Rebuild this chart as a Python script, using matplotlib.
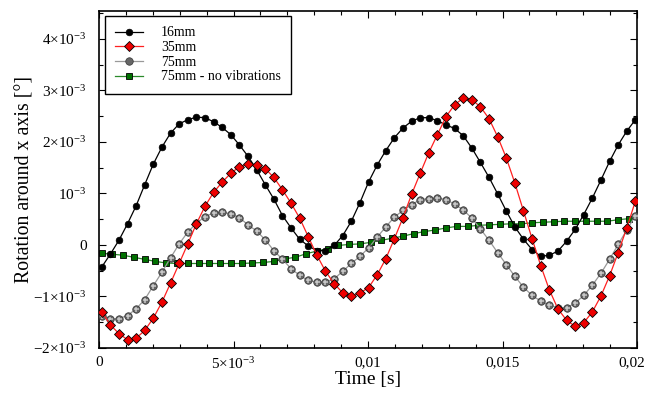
import numpy as np
import matplotlib
matplotlib.use("Agg")
import matplotlib.pyplot as plt
import matplotlib.transforms as mtransforms
from matplotlib.ticker import FixedLocator, MultipleLocator

plt.rcParams['font.family'] = ['Liberation Serif', 'DejaVu Serif']
plt.rcParams['mathtext.fontset'] = 'custom'
plt.rcParams['mathtext.rm'] = 'Liberation Serif'
plt.rcParams['mathtext.it'] = 'Liberation Serif:italic'

# time samples (s)
t_start = 0.0001
t_step = 0.00032
n_pts = 63
g_step = 0.0004
n_g = 50

# values in units of 1e-3 degrees
s16 = [-0.43, -0.18, 0.09, 0.41, 0.76, 1.17, 1.57, 1.90, 2.17, 2.35, 2.43,
       2.48, 2.47, 2.39, 2.28, 2.14, 1.94, 1.72, 1.46, 1.17, 0.89, 0.57,
       0.33, 0.11, -0.02, -0.11, -0.11, -0.01, 0.18, 0.46, 0.82, 1.22,
       1.55, 1.83, 2.08, 2.27, 2.40, 2.47, 2.47, 2.41, 2.33, 2.26, 2.12,
       1.88, 1.60, 1.31, 0.99, 0.66, 0.35, 0.11, -0.09, -0.22, -0.20,
       -0.12, 0.07, 0.30, 0.59, 0.91, 1.26, 1.62, 1.94, 2.21, 2.43]
s35 = [-1.30, -1.55, -1.72, -1.84, -1.81, -1.66, -1.42, -1.11, -0.74, -0.36,
       0.02, 0.41, 0.75, 1.02, 1.22, 1.39, 1.52, 1.57, 1.55, 1.48, 1.31,
       1.07, 0.81, 0.52, 0.16, -0.20, -0.51, -0.75, -0.93, -1.00, -0.93,
       -0.83, -0.58, -0.27, 0.12, 0.53, 0.98, 1.39, 1.79, 2.14, 2.49, 2.72,
       2.85, 2.82, 2.68, 2.45, 2.10, 1.69, 1.20, 0.66, 0.12, -0.40, -0.87,
       -1.24, -1.46, -1.58, -1.51, -1.30, -0.99, -0.60, -0.15, 0.33, 0.85]
s75 = [-1.37, -1.44, -1.43, -1.37, -1.24, -1.06, -0.79, -0.53, -0.25, 0.02,
       0.25, 0.42, 0.55, 0.62, 0.64, 0.60, 0.53, 0.39, 0.27, 0.10, -0.11,
       -0.28, -0.46, -0.59, -0.69, -0.72, -0.72, -0.66, -0.51, -0.36, -0.22,
       -0.06, 0.15, 0.35, 0.54, 0.67, 0.78, 0.88, 0.90, 0.91, 0.88, 0.79,
       0.68, 0.52, 0.31, 0.09, -0.15, -0.38, -0.61, -0.82, -0.98, -1.09,
       -1.17, -1.22, -1.22, -1.13, -0.98, -0.78, -0.55, -0.28, 0.01, 0.29,
       0.57]
s75nv = [-0.16, -0.18, -0.20, -0.24, -0.28, -0.32, -0.35, -0.36, -0.36,
         -0.36, -0.36, -0.36, -0.36, -0.36, -0.35, -0.34, -0.32, -0.27,
         -0.24, -0.17, -0.12, -0.07, -0.01, 0.01, 0.02, 0.05, 0.09, 0.13,
         0.17, 0.22, 0.26, 0.29, 0.33, 0.36, 0.36, 0.38, 0.39, 0.40, 0.41,
         0.41, 0.43, 0.44, 0.45, 0.46, 0.46, 0.46, 0.46, 0.46, 0.49, 0.51]

labels = ['16mm', '35mm', '75mm', '75mm - no vibrations']
xticks = [0, 0.005, 0.01, 0.015, 0.02]
xticklabels = ['0', r'$5{\times}10^{-3}$', '0,01', '0,015', '0,02']
yticks = [-2e-3, -1e-3, 0, 1e-3, 2e-3, 3e-3, 4e-3]
yticklabels = [r'$-2{\times}10^{-3}$', r'$-1{\times}10^{-3}$', '0',
               r'$10^{-3}$', r'$2{\times}10^{-3}$', r'$3{\times}10^{-3}$',
               r'$4{\times}10^{-3}$']

t = t_start + t_step * np.arange(n_pts)
tg = t_start + g_step * np.arange(n_g)
sc = 1e-3

fig = plt.figure(figsize=(6.49, 3.99), dpi=100)
ax = fig.add_axes([99/649, 1-348/399, 538/649, 337/399])

ax.plot(t, np.array(s16)*sc, '-o', color='black', lw=0.9, ms=4.8,
        mfc='black', mec='black', mew=0.5, label=labels[0], zorder=4)
ax.plot(t, np.array(s35)*sc, '-D', color='#ff2020', lw=0.9, ms=5.0,
        mfc='#ee0000', mec='black', mew=0.6, label=labels[1], zorder=5)
ax.plot(t, np.array(s75)*sc, '-o', color='#999999', lw=0.9, ms=5.4,
        mfc='#666666', mec='#333333', mew=0.5, label=labels[2], zorder=3)
ax.plot(t, np.array(s75)*sc, '+', color='#c8c8c8', ms=3.6, mew=1.1,
        zorder=3.5)
ax.plot(tg, np.array(s75nv)*sc, '-s', color='#2a8a2a', lw=0.9, ms=4.8,
        mfc='#007000', mec='black', mew=0.6, label=labels[3], zorder=2)

ax.set_xlim(0, 0.02)
ax.set_ylim(-2e-3, 4.54e-3)
ax.xaxis.set_major_locator(FixedLocator(xticks))
ax.set_xticklabels(xticklabels)
ax.xaxis.set_minor_locator(MultipleLocator(0.001))
ax.yaxis.set_major_locator(FixedLocator(yticks))
ax.set_yticklabels(yticklabels)
ax.yaxis.set_minor_locator(MultipleLocator(0.5e-3))
ax.tick_params(which='both', direction='in', top=True, right=True,
               labelsize=11, width=0.8)
ax.tick_params(which='major', length=5)
ax.tick_params(which='minor', length=3)
ax.tick_params(axis='x', pad=6)
ax.tick_params(axis='y', pad=9)
for sp in ax.spines.values():
    sp.set_linewidth(1.2)

# nudge the last x tick label inward so it fits
last = ax.get_xticklabels()[-1]
last.set_transform(last.get_transform() +
                   mtransforms.ScaledTranslation(-5/100, 0, fig.dpi_scale_trans))

ax.set_xlabel('Time [s]', fontsize=14, labelpad=-1)
ax.set_ylabel('Rotation around x axis [°]', fontsize=14.3, labelpad=-1)

leg = ax.legend(loc='upper left', bbox_to_anchor=(0.011, 0.985),
                borderaxespad=0, fontsize=10, frameon=True, fancybox=False,
                edgecolor='black', framealpha=1, handlelength=2.0,
                handletextpad=1.3, borderpad=0.75, labelspacing=0.12)
leg.get_frame().set_linewidth(1.0)

fig.savefig('out.png', dpi=100)
